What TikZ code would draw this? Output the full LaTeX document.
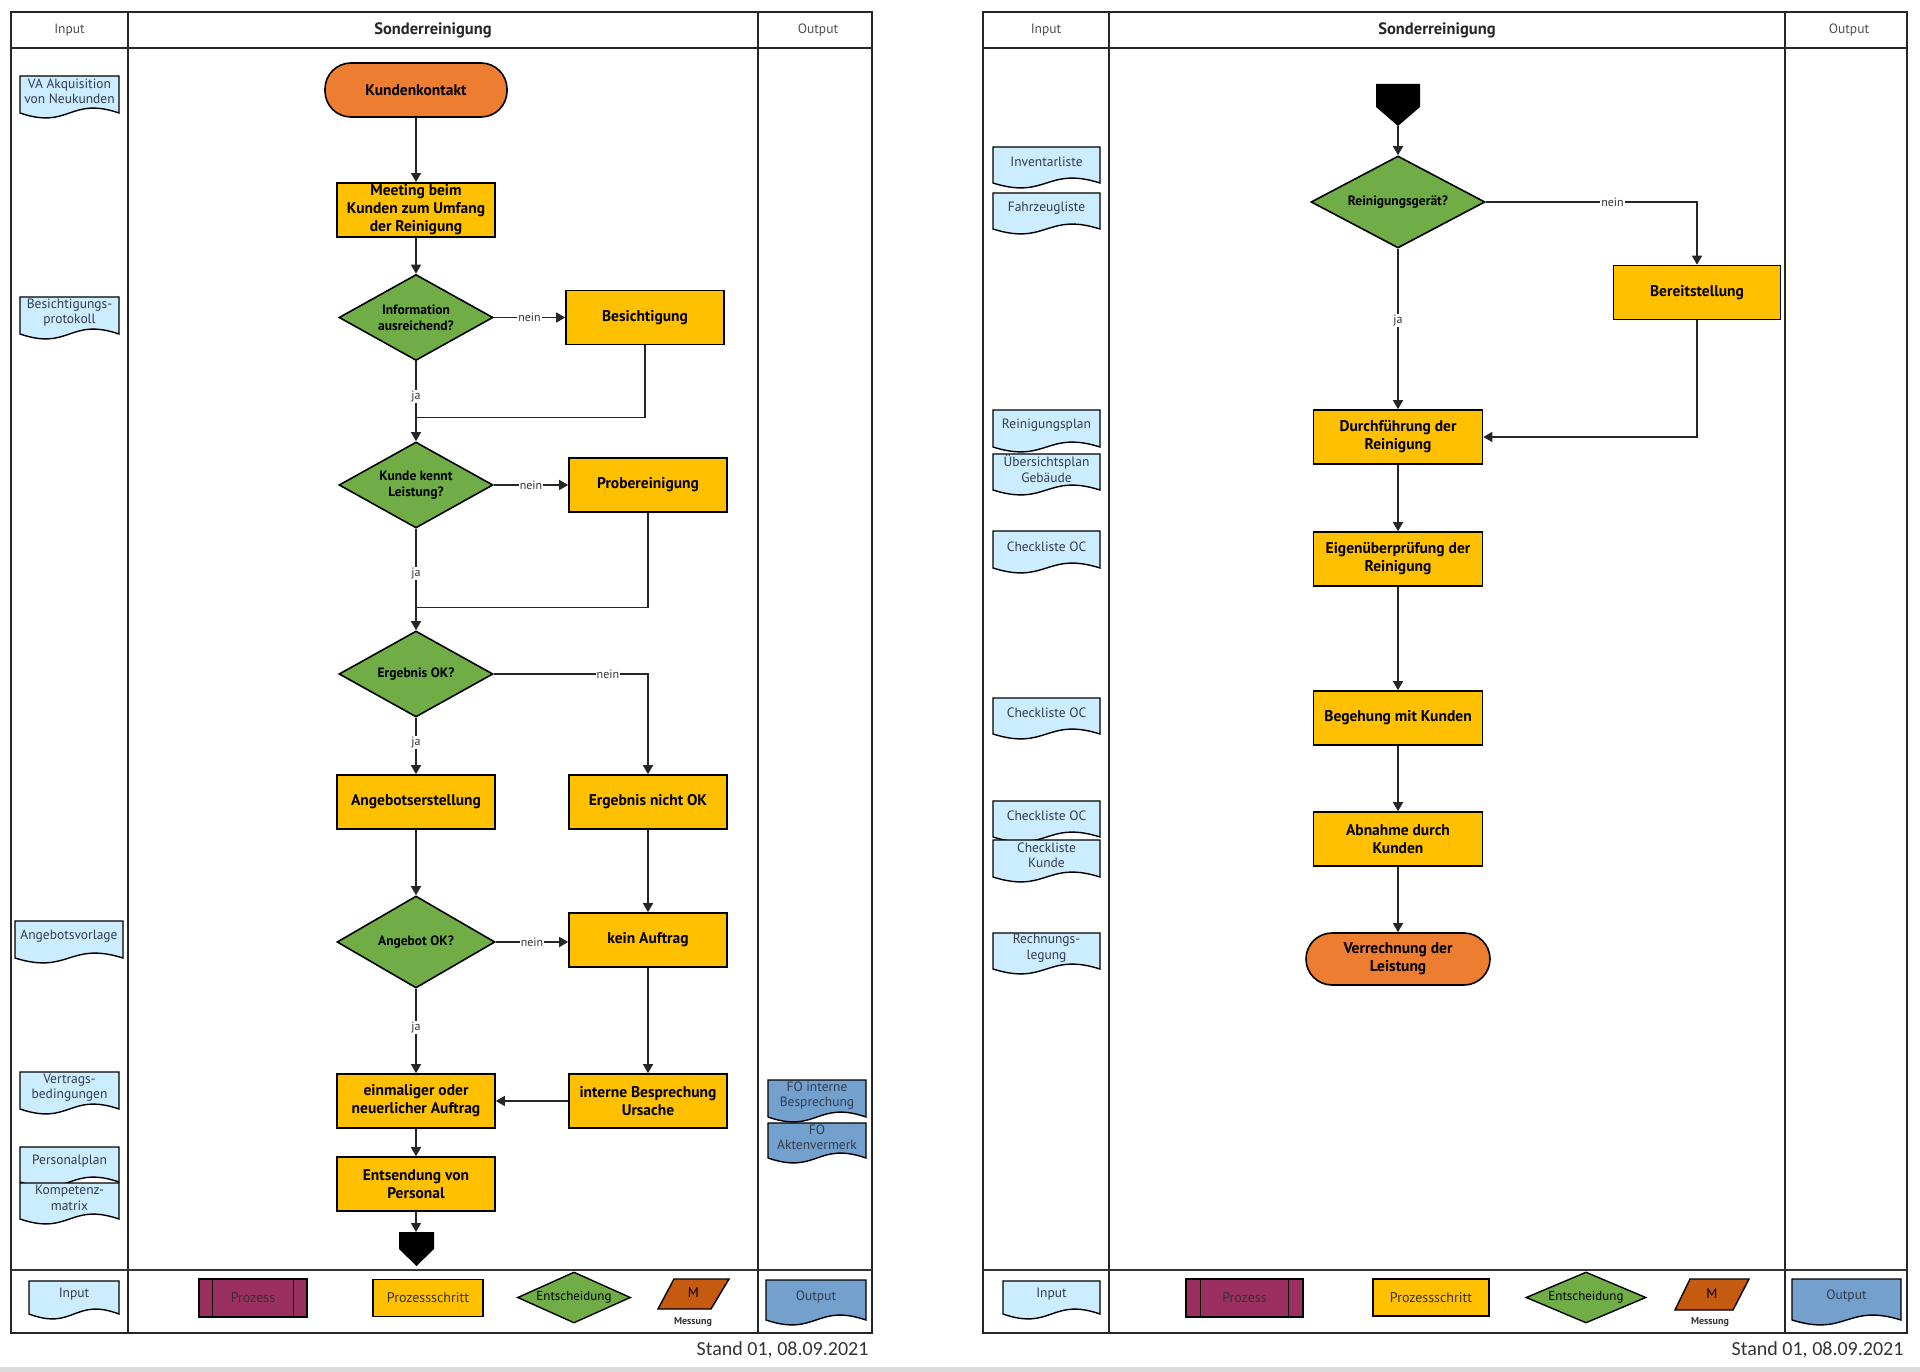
\documentclass[tikz,border=0pt]{standalone}
\usepackage{fontspec}
\setmainfont{PT Sans}
\newfontfamily\standfont{Carlito}
\usetikzlibrary{shapes.geometric, arrows.meta, calc}

\definecolor{terminalorange}{RGB}{237,125,49}
\definecolor{stepyellow}{RGB}{255,192,0}
\definecolor{decisiongreen}{RGB}{112,173,71}
\definecolor{inputblue}{RGB}{204,236,255}
\definecolor{outputblue}{RGB}{116,160,206}
\definecolor{processpurple}{RGB}{155,48,96}
\definecolor{measureorange}{RGB}{197,90,17}
\definecolor{doctext}{RGB}{50,60,78}

\tikzstyle{arrow}=[-{Triangle[length=9pt,width=10pt]}, line width=1.5pt, color=black!85]
\tikzstyle{joinline}=[line width=1.5pt, color=black!85]
\tikzstyle{laneframe}=[line width=2pt, color=black!85]
\tikzstyle{stepbox}=[draw, line width=1.6pt, fill=stepyellow, minimum width=158, minimum height=54,
                     align=center, inner sep=2pt, font=\fontsize{15.5}{18}\selectfont\bfseries]
\tikzstyle{terminal}=[stepbox, fill=terminalorange, rounded corners=26pt]
\tikzstyle{decision}=[diamond, draw, line width=1.6pt, fill=decisiongreen, shape aspect=1.8,
                      minimum width=154, minimum height=86, inner sep=0pt, align=center,
                      font=\fontsize{13.5}{16}\selectfont\bfseries]
\tikzstyle{choice}=[fill=white, inner sep=1pt, font=\fontsize{12}{14}\selectfont, text=black!80]
\tikzstyle{doclabel}=[align=center, inner sep=0pt, text=doctext, font=\fontsize{13.5}{15.5}\selectfont]
\tikzstyle{colhead}=[font=\fontsize{13.5}{15}\selectfont, text=black!70]
\tikzstyle{legendbox}=[draw, line width=1.4pt, minimum width=110, minimum height=37, inner sep=1pt,
                       font=\fontsize{14}{16}\selectfont, text=black!80]

% document symbol: name, fill, x1, y1, x2, y bottom, text
\newcommand{\docshape}[7]{%
  \draw[line width=1.4pt, fill=#2] (#3,#4) -- (#5,#4) -- (#5,#6)
    .. controls ({(#3+#5)/2},{#6-17}) and ({(#3+#5)/2},{#6+17}) .. (#3,#6) -- cycle;
  \node[doclabel] (#1) at ({(#3+#5)/2},{(#4+#6)/2-3}) {#7};
}

\begin{document}
\begin{tikzpicture}[x=1pt, y=-1pt]
\useasboundingbox (0,0) rectangle (1920,1372);
\fill[black!14] (0,1367) rectangle (1920,1372);

% Lanes of both sheets
\foreach \xl/\xi/\xo/\xr in {11/128/758/872, 983/1109/1785/1907}{
  \draw[laneframe] (\xl,12) rectangle (\xr,1333);
  \draw[laneframe] (\xl,48) -- (\xr,48);
  \draw[laneframe] (\xi,12) -- (\xi,1333);
  \draw[laneframe] (\xo,12) -- (\xo,1333);
  \draw[line width=1.5pt, black!80] (\xl,1270) -- (\xr,1270);
  \node[colhead] at ({(\xl+\xi)/2},30) {Input};
  \node[colhead] at ({(\xo+\xr)/2+3},30) {Output};
  \node[font=\fontsize{16.5}{18}\selectfont\bfseries, text=black!85] at ({(\xi+\xo)/2-10},30) {Sonderreinigung};
  \node[anchor=east, font=\standfont\fontsize{20}{22}\selectfont, text=black!80] at (\xr,1350) {Stand 01, 08.09.2021};
}

% ---- left sheet: flow
\node[terminal, minimum width=182] (kontakt) at (416,90) {Kundenkontakt};
\node[stepbox] (meeting) at (416,210) {Meeting beim\\Kunden zum Umfang\\der Reinigung};
\node[decision] (info) at (416,317.5) {Information\\ausreichend?};
\node[stepbox] (besicht) at (645,317.5) {Besichtigung};
\node[decision] (kennt) at (416,485) {Kunde kennt\\Leistung?};
\node[stepbox] (probe) at (648,485) {Probereinigung};
\node[decision] (ergebnis) at (416,674) {Ergebnis OK?};
\node[stepbox] (angebotserst) at (416,802) {Angebotserstellung};
\node[stepbox] (nichtok) at (648,802) {Ergebnis nicht OK};
\node[decision, minimum width=158, minimum height=92] (angebot) at (416,942) {Angebot OK?};
\node[stepbox] (keinauftrag) at (648,940) {kein Auftrag};
\node[stepbox] (auftrag) at (416,1101) {einmaliger oder\\neuerlicher Auftrag};
\node[stepbox] (intern) at (648,1101) {interne Besprechung\\Ursache};
\node[stepbox] (entsendung) at (416,1184) {Entsendung von\\Personal};
\fill (399,1232) -- (434,1232) -- (434,1249) -- (416.5,1266) -- (399,1249) -- cycle;
\coordinate (offA) at (416,1232);
\coordinate (merge1) at (416,417.5);
\coordinate (merge2) at (416,607.5);

\draw[arrow] (kontakt) -- (meeting);
\draw[arrow] (meeting) -- (info);
\draw[arrow] (info) -- node[choice]{nein} (besicht);
\draw[arrow] (info) -- node[choice, pos=0.44]{ja} (kennt);
\draw[joinline] (besicht.south) |- (merge1);
\draw[arrow] (kennt) -- node[choice]{nein} (probe);
\draw[arrow] (kennt) -- node[choice, pos=0.44]{ja} (ergebnis);
\draw[joinline] (probe.south) |- (merge2);
\draw[arrow] (ergebnis.east) -| node[choice, pos=0.37]{nein} (nichtok.north);
\draw[arrow] (ergebnis) -- node[choice, pos=0.44]{ja} (angebotserst);
\draw[arrow] (angebotserst) -- (angebot);
\draw[arrow] (nichtok) -- (keinauftrag);
\draw[arrow] (angebot.east) -- node[choice]{nein} (keinauftrag.west |- angebot.east);
\draw[arrow] (angebot) -- node[choice, pos=0.46]{ja} (auftrag);
\draw[arrow] (keinauftrag) -- (intern);
\draw[arrow] (intern) -- (auftrag);
\draw[arrow] (auftrag) -- (entsendung);
\draw[arrow] (entsendung) -- (offA);

% ---- left sheet: input / output
\docshape{vaneu}{inputblue}{20}{76}{119}{113}{VA Akquisition\\von Neukunden}
\docshape{protokoll}{inputblue}{20}{297}{119}{334}{Besichtigungs-\\protokoll}
\docshape{vorlage}{inputblue}{15}{921}{123}{958}{Angebotsvorlage}
\docshape{vertrag}{inputblue}{20}{1072}{119}{1109}{Vertrags-\\bedingungen}
\docshape{personal}{inputblue}{20}{1147}{119}{1182}{Personalplan}
\docshape{kompetenz}{inputblue}{20}{1183}{119}{1219}{Kompetenz-\\matrix}
\docshape{fointern}{outputblue}{768}{1080}{866}{1117}{FO interne\\Besprechung}
\docshape{foakten}{outputblue}{768}{1123}{866}{1158}{FO\\Aktenvermerk}

% ---- left sheet: legend
\docshape{legInA}{inputblue}{29}{1281}{119}{1314}{Input}
\node[legendbox, fill=processpurple, minimum width=108, minimum height=38] (legProzA) at (253,1298) {Prozess};
\draw[line width=1.4pt] ([xshift=14pt]legProzA.north west) -- ([xshift=14pt]legProzA.south west);
\draw[line width=1.4pt] ([xshift=-14pt]legProzA.north east) -- ([xshift=-14pt]legProzA.south east);
\node[legendbox, fill=stepyellow] (legStepA) at (428,1298) {Prozessschritt};
\node[decision, minimum width=113, minimum height=51, shape aspect=2.2, line width=1.4pt,
      font=\fontsize{13}{15}\selectfont] (legDecA) at (574,1297.5) {Entscheidung};
\draw[line width=1.4pt, fill=measureorange] (658,1309) -- (674,1279) -- (729,1279) -- (711,1309) -- cycle;
\node[font=\fontsize{14}{16}\selectfont] (legMessA) at (693.5,1293) {M};
\node[font=\fontsize{10}{11}\selectfont\bfseries, text=black!80] at (693,1322) {Messung};
\docshape{legOutA}{outputblue}{766}{1280}{866}{1320}{Output}

% ---- right sheet: flow
\fill (1376,84) -- (1420,84) -- (1420,107) -- (1398,126) -- (1376,107) -- cycle;
\coordinate (offB) at (1398,126);
\node[decision, minimum width=174, minimum height=92] (geraet) at (1398,202) {Reinigungsgerät?};
\node[stepbox, minimum width=167] (bereit) at (1697,292.5) {Bereitstellung};
\node[stepbox, minimum width=169] (durchf) at (1398,437) {Durchführung der\\Reinigung};
\node[stepbox, minimum width=169] (eigen) at (1398,559) {Eigenüberprüfung der\\Reinigung};
\node[stepbox, minimum width=169] (begehung) at (1398,718) {Begehung mit Kunden};
\node[stepbox, minimum width=169] (abnahme) at (1398,839) {Abnahme durch\\Kunden};
\node[terminal, minimum width=184, minimum height=52] (verrechnung) at (1398,959) {Verrechnung der\\Leistung};

\draw[arrow] (offB) -- (geraet);
\draw[arrow] (geraet.east) -| node[choice, pos=0.3]{nein} (bereit.north);
\draw[arrow] (geraet) -- node[choice, pos=0.45]{ja} (durchf);
\draw[arrow] (bereit.south) |- (durchf.east);
\draw[arrow] (durchf) -- (eigen);
\draw[arrow] (eigen) -- (begehung);
\draw[arrow] (begehung) -- (abnahme);
\draw[arrow] (abnahme) -- (verrechnung);

% ---- right sheet: input
\docshape{inventar}{inputblue}{993}{147}{1100}{183}{Inventarliste}
\docshape{fahrzeug}{inputblue}{993}{193}{1100}{229}{Fahrzeugliste}
\docshape{reinplan}{inputblue}{993}{410}{1100}{447}{Reinigungsplan}
\docshape{uebersicht}{inputblue}{993}{454}{1100}{490}{Übersichtsplan\\Gebäude}
\docshape{ocA}{inputblue}{993}{531}{1100}{568}{Checkliste OC}
\docshape{ocB}{inputblue}{993}{698}{1100}{734}{Checkliste OC}
\docshape{ocC}{inputblue}{993}{801}{1100}{837}{Checkliste OC}
\docshape{ckunde}{inputblue}{993}{840}{1100}{877}{Checkliste\\Kunde}
\docshape{rechnung}{inputblue}{993}{933}{1100}{969}{Rechnungs-\\legung}

% ---- right sheet: legend
\docshape{legInB}{inputblue}{1003}{1281}{1100}{1314}{Input}
\node[legendbox, fill=processpurple, minimum width=117, minimum height=38] (legProzB) at (1244.5,1298) {Prozess};
\draw[line width=1.4pt] ([xshift=15pt]legProzB.north west) -- ([xshift=15pt]legProzB.south west);
\draw[line width=1.4pt] ([xshift=-15pt]legProzB.north east) -- ([xshift=-15pt]legProzB.south east);
\node[legendbox, fill=stepyellow, minimum width=116] (legStepB) at (1431,1297.5) {Prozessschritt};
\node[decision, minimum width=120, minimum height=51, shape aspect=2.2, line width=1.4pt,
      font=\fontsize{13}{15}\selectfont] (legDecB) at (1586,1297.5) {Entscheidung};
\draw[line width=1.4pt, fill=measureorange] (1675,1310) -- (1690,1279) -- (1749,1279) -- (1733,1310) -- cycle;
\node[font=\fontsize{14}{16}\selectfont] (legMessB) at (1712,1294) {M};
\node[font=\fontsize{10}{11}\selectfont\bfseries, text=black!80] at (1710,1322) {Messung};
\docshape{legOutB}{outputblue}{1792}{1279}{1901}{1320}{Output}
\end{tikzpicture}
\end{document}
